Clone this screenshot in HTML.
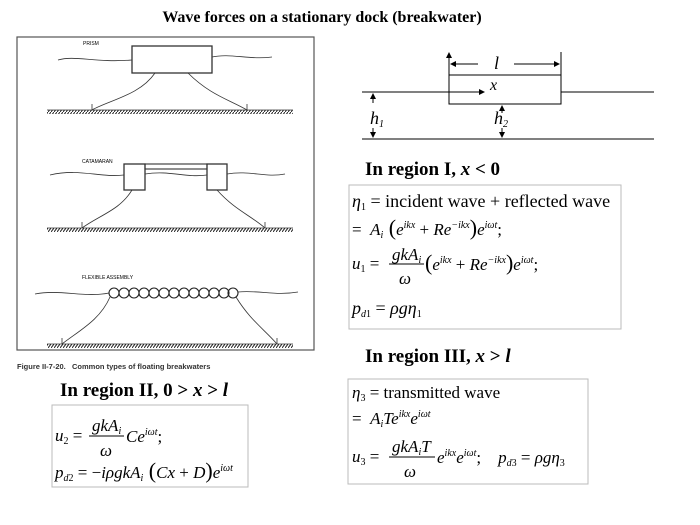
<!DOCTYPE html>
<html><head><meta charset="utf-8"><style>
html,body{margin:0;padding:0;background:#fff;}
svg{display:block;}
text{font-family:"Liberation Serif",serif;fill:#000;}
.i{font-style:italic;}
.s{font-size:10px;}
.h{font-weight:bold;font-size:19px;}
</style></head><body>
<svg width="700" height="525" viewBox="0 0 700 525" xmlns="http://www.w3.org/2000/svg">
<defs>
<pattern id="hat" width="3" height="4" patternUnits="userSpaceOnUse">
<line x1="0" y1="4" x2="3" y2="0" stroke="#222" stroke-width="1"/>
</pattern>
<marker id="ar" markerWidth="6" markerHeight="6" refX="5" refY="3" orient="auto"><path d="M0,0 L6,3 L0,6 z" fill="#000"/></marker>
</defs>
<text x="322" y="22" text-anchor="middle" style="font-weight:bold;font-size:16px">Wave forces on a stationary dock (breakwater)</text>

<rect x="17" y="37" width="297" height="313" fill="none" stroke="#555" stroke-width="1.2"/>
<g stroke="#333" fill="none" stroke-width="0.8">
<path d="M58,60 C75,55 95,63 132,60"/>
<path d="M212,57 C230,53 250,60 272,57"/>
<rect x="132" y="46" width="80" height="27" stroke-width="1.3"/>
<path d="M155,73 C140,95 110,100 92,110"/>
<path d="M188,73 C210,95 230,100 247,110"/>
<line x1="92" y1="104" x2="92" y2="110"/><line x1="247" y1="104" x2="247" y2="110"/>
<path d="M50,175 C80,168 100,178 124,175"/>
<path d="M145,174 C170,170 185,178 207,175"/>
<path d="M227,174 C250,170 265,178 285,174"/>
<rect x="124" y="164" width="21" height="26" stroke-width="1.3"/>
<rect x="207" y="164" width="20" height="26" stroke-width="1.3"/>
<rect x="145" y="164" width="62" height="5" stroke-width="1.1"/>
<path d="M132,190 C120,210 100,215 82,228"/>
<path d="M217,190 C235,210 250,215 265,228"/>
<line x1="82" y1="222" x2="82" y2="228"/><line x1="265" y1="222" x2="265" y2="228"/>
<path d="M35,294 C60,289 85,298 109,293"/>
<path d="M238,292 C260,290 275,296 298,292"/>
<path d="M110,297 C100,320 80,330 62,344"/>
<path d="M236,297 C250,320 265,330 277,344"/>
<line x1="62" y1="338" x2="62" y2="344"/><line x1="277" y1="338" x2="277" y2="344"/>
</g>
<g stroke="#222" fill="none" stroke-width="1.1">
<circle cx="114" cy="293" r="5"/><circle cx="124" cy="293" r="5"/><circle cx="134" cy="293" r="5"/><circle cx="144" cy="293" r="5"/><circle cx="154" cy="293" r="5"/><circle cx="164" cy="293" r="5"/><circle cx="174" cy="293" r="5"/><circle cx="184" cy="293" r="5"/><circle cx="194" cy="293" r="5"/><circle cx="204" cy="293" r="5"/><circle cx="214" cy="293" r="5"/><circle cx="224" cy="293" r="5"/><circle cx="233" cy="293" r="5"/>
</g>
<g>
<line x1="47" y1="110" x2="293" y2="110" stroke="#333" stroke-width="0.8"/>
<rect x="47" y="110" width="246" height="4" fill="url(#hat)"/>
<line x1="47" y1="228" x2="293" y2="228" stroke="#333" stroke-width="0.8"/>
<rect x="47" y="228" width="246" height="4" fill="url(#hat)"/>
<line x1="47" y1="344" x2="293" y2="344" stroke="#333" stroke-width="0.8"/>
<rect x="47" y="344" width="246" height="4" fill="url(#hat)"/>
</g>
<text x="83" y="45" style="font-family:'Liberation Sans',sans-serif;font-size:5px">PRISM</text>
<text x="82" y="163" style="font-family:'Liberation Sans',sans-serif;font-size:5px">CATAMARAN</text>
<text x="82" y="279" style="font-family:'Liberation Sans',sans-serif;font-size:5px">FLEXIBLE ASSEMBLY</text>
<text x="17" y="369" style="font-family:'Liberation Sans',sans-serif;font-size:7.5px;font-weight:bold;fill:#333">Figure II-7-20.&#160;&#160; Common types of floating breakwaters</text>

<g stroke="#000" stroke-width="1" fill="none">
<line x1="362" y1="92" x2="449" y2="92"/>
<line x1="561" y1="92" x2="654" y2="92"/>
<line x1="362" y1="139" x2="654" y2="139"/>
<rect x="449" y="75" width="112" height="29"/>
<line x1="449" y1="75" x2="449" y2="53" marker-end="url(#ar)"/>
<line x1="561" y1="52" x2="561" y2="75"/>
<line x1="478" y1="64" x2="451" y2="64" marker-end="url(#ar)"/>
<line x1="514" y1="64" x2="559" y2="64" marker-end="url(#ar)"/>
<line x1="449" y1="92" x2="484" y2="92" marker-end="url(#ar)"/>
<line x1="373" y1="103" x2="373" y2="94" marker-end="url(#ar)"/>
<line x1="373" y1="128" x2="373" y2="137" marker-end="url(#ar)"/>
<line x1="502" y1="113" x2="502" y2="106" marker-end="url(#ar)"/>
<line x1="502" y1="128" x2="502" y2="137" marker-end="url(#ar)"/>
</g>
<text x="494" y="69" class="i" font-size="18">l</text>
<text x="490" y="90" class="i" font-size="16">x</text>
<text x="370" y="124" class="i" font-size="18">h<tspan class="s" dy="3">1</tspan></text>
<text x="494" y="124" class="i" font-size="18">h<tspan class="s" dy="3">2</tspan></text>

<text x="365" y="175" class="h">In region I, <tspan class="i">x</tspan> &lt; 0</text>
<rect x="349" y="185" width="272" height="144" fill="none" stroke="#bbb"/>
<text x="352" y="207" font-size="18"><tspan class="i">η</tspan><tspan class="s" dy="3">1</tspan><tspan dy="-3"> = incident wave + reflected wave</tspan></text>
<text x="352" y="235" font-size="17">=&#160;&#160;<tspan class="i">A</tspan><tspan class="s i" dy="3">i</tspan><tspan dy="-3" font-size="22">&#160;(</tspan><tspan class="i">e</tspan><tspan class="s i" dy="-7">ikx</tspan><tspan dy="7"> + </tspan><tspan class="i">Re</tspan><tspan class="s i" dy="-7">−ikx</tspan><tspan dy="7" font-size="22">)</tspan><tspan class="i">e</tspan><tspan class="s i" dy="-7">iωt</tspan><tspan dy="7">;</tspan></text>
<text x="352" y="269" font-size="17"><tspan class="i">u</tspan><tspan class="s" dy="3">1</tspan><tspan dy="-3"> =</tspan></text>
<text x="392" y="260" font-size="17" class="i">gkA<tspan class="s" dy="3">i</tspan></text>
<line x1="389" y1="264" x2="424" y2="264" stroke="#000"/>
<text x="399" y="284" font-size="17" class="i">ω</text>
<text x="425" y="270" font-size="17"><tspan font-size="22">(</tspan><tspan class="i">e</tspan><tspan class="s i" dy="-7">ikx</tspan><tspan dy="7"> + </tspan><tspan class="i">Re</tspan><tspan class="s i" dy="-7">−ikx</tspan><tspan dy="7" font-size="22">)</tspan><tspan class="i">e</tspan><tspan class="s i" dy="-7">iωt</tspan><tspan dy="7">;</tspan></text>
<text x="352" y="314" font-size="18"><tspan class="i">p</tspan><tspan class="s i" dy="3">d</tspan><tspan class="s">1</tspan><tspan dy="-3"> = </tspan><tspan class="i">ρgη</tspan><tspan class="s" dy="3">1</tspan></text>

<text x="365" y="362" class="h">In region III, <tspan class="i">x</tspan> &gt; <tspan class="i">l</tspan></text>
<rect x="348" y="379" width="240" height="105" fill="none" stroke="#bbb"/>
<text x="352" y="398" font-size="17"><tspan class="i">η</tspan><tspan class="s" dy="3">3</tspan><tspan dy="-3"> = transmitted wave</tspan></text>
<text x="352" y="424" font-size="17">=&#160;&#160;<tspan class="i">A</tspan><tspan class="s i" dy="3">i</tspan><tspan dy="-3" class="i">Te</tspan><tspan class="s i" dy="-7">ikx</tspan><tspan dy="7" class="i">e</tspan><tspan class="s i" dy="-7">iωt</tspan></text>
<text x="352" y="462" font-size="17"><tspan class="i">u</tspan><tspan class="s" dy="3">3</tspan><tspan dy="-3"> =</tspan></text>
<text x="392" y="452" font-size="17" class="i">gkA<tspan class="s" dy="3">i</tspan><tspan dy="-3">T</tspan></text>
<line x1="389" y1="457" x2="435" y2="457" stroke="#000"/>
<text x="404" y="477" font-size="17" class="i">ω</text>
<text x="437" y="463" font-size="17"><tspan class="i">e</tspan><tspan class="s i" dy="-7">ikx</tspan><tspan dy="7" class="i">e</tspan><tspan class="s i" dy="-7">iωt</tspan><tspan dy="7">;&#160;&#160;&#160;&#160;</tspan><tspan class="i">p</tspan><tspan class="s i" dy="3">d</tspan><tspan class="s">3</tspan><tspan dy="-3"> = </tspan><tspan class="i">ρgη</tspan><tspan class="s" dy="3">3</tspan></text>

<text x="60" y="396" class="h">In region II, 0 &gt; <tspan class="i">x</tspan> &gt; <tspan class="i">l</tspan></text>
<rect x="52" y="405" width="196" height="82" fill="none" stroke="#bbb"/>
<text x="55" y="441" font-size="17"><tspan class="i">u</tspan><tspan class="s" dy="3">2</tspan><tspan dy="-3"> =</tspan></text>
<text x="92" y="431" font-size="17" class="i">gkA<tspan class="s" dy="3">i</tspan></text>
<line x1="89" y1="436" x2="124" y2="436" stroke="#000"/>
<text x="100" y="456" font-size="17" class="i">ω</text>
<text x="126" y="442" font-size="17"><tspan class="i">Ce</tspan><tspan class="s i" dy="-7">iωt</tspan><tspan dy="7">;</tspan></text>
<text x="55" y="478" font-size="17"><tspan class="i">p</tspan><tspan class="s i" dy="3">d</tspan><tspan class="s">2</tspan><tspan dy="-3"> = −</tspan><tspan class="i">iρgkA</tspan><tspan class="s i" dy="3">i</tspan><tspan dy="-3" font-size="22">&#160;(</tspan><tspan class="i">Cx</tspan><tspan> + </tspan><tspan class="i">D</tspan><tspan font-size="22">)</tspan><tspan class="i">e</tspan><tspan class="s i" dy="-7">iωt</tspan></text>
</svg>
</body></html>
